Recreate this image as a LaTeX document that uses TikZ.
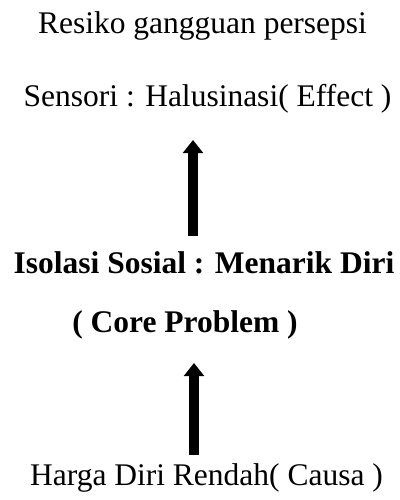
\documentclass[tikz,border=0pt]{standalone}
\usepackage{fontspec}
\setmainfont{Liberation Serif}
\usetikzlibrary{arrows.meta}
\begin{document}
\begin{tikzpicture}[x=0.025cm,y=-0.025cm,
  txt/.style={anchor=base,inner sep=0pt,font=\fontsize{22.4}{26}\selectfont},
  btxt/.style={txt,font=\fontsize{22.4}{26}\selectfont\bfseries},
  uparrow/.style={line width=0.27cm,-{Triangle[width=0.5cm,length=0.33cm]}}]
\useasboundingbox (0,0) rectangle (400,500);
\node[txt] (resiko) at (202.5,33) {Resiko gangguan persepsi};
\node[txt] (sensori) at (207.5,106) {Sensori : Halusinasi( Effect )};
\node[btxt] (isolasi) at (204,273) {Isolasi Sosial : Menarik Diri};
\node[btxt] (core) at (185,332) {( Core Problem )};
\node[txt] (harga) at (206.5,485) {Harga Diri Rendah( Causa )};
\coordinate (a1s) at (193,236);
\coordinate (a1e) at (193,140);
\coordinate (a2s) at (194,455);
\coordinate (a2e) at (194,363);
\draw[uparrow] (a1s) -- (a1e);
\draw[uparrow] (a2s) -- (a2e);
\end{tikzpicture}
\end{document}
